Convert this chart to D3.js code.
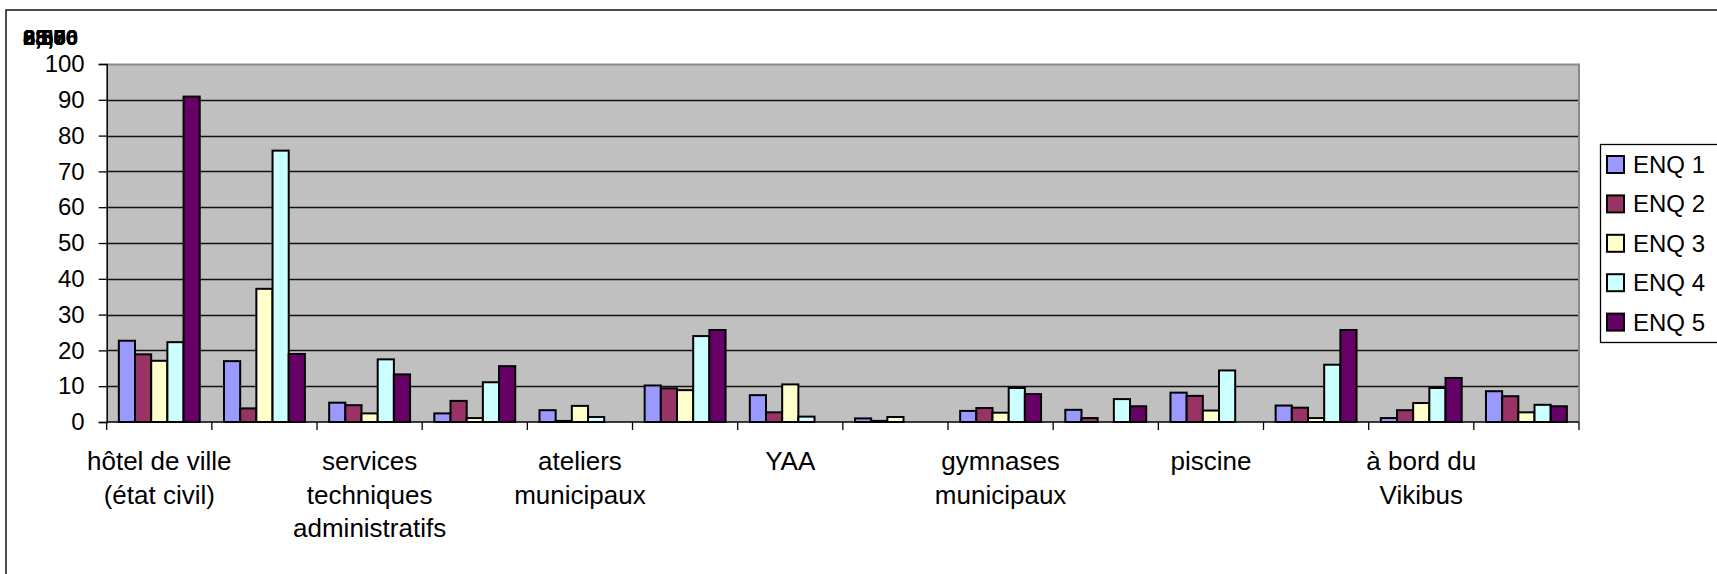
<!DOCTYPE html>
<html>
<head>
<meta charset="utf-8">
<script src="https://cdn.jsdelivr.net/npm/d3@7"></script>
<style>
  html, body { margin: 0; padding: 0; background: #fff; }
  svg { display: block; font-family: "Liberation Sans", Arial, sans-serif; }
</style>
</head>
<body>
<svg id="chart" width="1717" height="574"></svg>
<script>
// Lieux d'enquête (seule une étiquette sur deux est affichée sur l'axe)
const categories = [
  "hôtel de ville\n(état civil)", "",
  "services\ntechniques\nadministratifs", "",
  "ateliers\nmunicipaux", "",
  "YAA", "",
  "gymnases\nmunicipaux", "",
  "piscine", "",
  "à bord du\nVikibus", ""
];

const seriesNames = ["ENQ 1", "ENQ 2", "ENQ 3", "ENQ 4", "ENQ 5"];

const enq1 = [22.7, 17.0, 5.4, 2.4, 3.3, 10.2, 7.5, 1.0, 3.1, 3.4, 8.2, 4.6, 1.1, 8.6];
const enq2 = [18.9, 3.8, 4.7, 5.9, 0.3, 9.4, 2.7, 0.3, 3.9, 1.1, 7.3, 4.0, 3.3, 7.2];
const enq3 = [17.1, 37.2, 2.4, 1.1, 4.5, 8.9, 10.5, 1.4, 2.6, 0, 3.2, 1.1, 5.3, 2.7];
const enq4 = [22.3, 75.8, 17.5, 11.1, 1.4, 24.0, 1.5, 0, 9.5, 6.4, 14.4, 16.0, 9.5, 4.8];
const enq5 = [90.9, 19.0, 13.3, 15.6, 0, 25.7, 0, 0, 7.8, 4.4, 0, 25.7, 12.3, 4.4];

const yTicks = [0, 10, 20, 30, 40, 50, 60, 70, 80, 90, 100];

// Étiquettes superposées en haut à gauche
const cornerLabels = ["0,00", "88,76", "25,00", "8,33", "6,50", "83,50"];

const seriesColors = ["#9999FF", "#993366", "#FFFFCC", "#CCFFFF", "#660066"];
const seriesValues = [enq1, enq2, enq3, enq4, enq5];

const svg = d3.select("#chart");

// cadre extérieur du graphique
svg.append("rect")
  .attr("x", 6).attr("y", 10)
  .attr("width", 1800).attr("height", 700)
  .attr("fill", "#fff")
  .attr("stroke", "#222").attr("stroke-width", 1.6);

const plot = { left: 106.7, right: 1579, top: 64, bottom: 422 };

const x = d3.scaleBand()
  .domain(d3.range(categories.length))
  .range([plot.left, plot.right])
  .paddingInner(0).paddingOuter(0);

const barW = x.bandwidth() / 6.5;
const xs = d3.scaleBand()
  .domain(d3.range(seriesNames.length))
  .range([barW * 0.75, barW * 5.75]);

const y = d3.scaleLinear().domain([0, 100]).range([plot.bottom, plot.top]);

// fond de la zone de traçage
svg.append("rect")
  .attr("x", plot.left).attr("y", plot.top)
  .attr("width", plot.right - plot.left).attr("height", plot.bottom - plot.top)
  .attr("fill", "#C0C0C0");

// quadrillage horizontal
svg.append("g")
  .selectAll("line")
  .data(yTicks.filter(d => d > 0 && d < 100))
  .join("line")
  .attr("x1", plot.left).attr("x2", plot.right)
  .attr("y1", d => Math.round(y(d)) + 0.5).attr("y2", d => Math.round(y(d)) + 0.5)
  .attr("stroke", "#111").attr("stroke-width", 1.3);

// bordure de la zone de traçage (haut et droite)
svg.append("path")
  .attr("d", `M${plot.left},${plot.top + 0.5}H${plot.right}V${plot.bottom}`)
  .attr("fill", "none").attr("stroke", "#8a8a8a").attr("stroke-width", 2);

// barres
const groups = svg.append("g")
  .selectAll("g")
  .data(seriesNames.map((name, i) => ({ name, i, values: seriesValues[i] })))
  .join("g")
  .attr("fill", d => seriesColors[d.i]);

groups.selectAll("rect")
  .data(d => d.values.map((v, c) => ({ v, c, s: d.i })))
  .join("rect")
  .attr("x", d => x(d.c) + xs(d.s))
  .attr("width", xs.bandwidth())
  .attr("y", d => y(d.v))
  .attr("height", d => y(0) - y(d.v))
  .attr("stroke", "#000")
  .attr("stroke-width", 2)
  .attr("stroke-linejoin", "miter");

// axe des ordonnées
const yAxis = d3.axisLeft(y).tickValues(yTicks).tickSize(8).tickPadding(14).tickFormat(d3.format("d"));
const yg = svg.append("g")
  .attr("transform", `translate(${plot.left},0)`)
  .call(yAxis);
yg.select(".domain").attr("stroke", "#000").attr("stroke-width", 1.5);
yg.selectAll(".tick line").attr("stroke", "#000").attr("stroke-width", 1.3);
yg.selectAll(".tick text")
  .attr("font-size", 24)
  .attr("font-family", "Liberation Sans, Arial, sans-serif")
  .attr("fill", "#000");

// axe des abscisses
const xEdges = d3.range(categories.length + 1).map(i => plot.left + i * x.bandwidth());
const xg = svg.append("g");
xg.append("line")
  .attr("x1", plot.left).attr("x2", plot.right)
  .attr("y1", plot.bottom).attr("y2", plot.bottom)
  .attr("stroke", "#000").attr("stroke-width", 1.5);
xg.selectAll("line.tick")
  .data(xEdges)
  .join("line")
  .attr("class", "tick")
  .attr("x1", d => d).attr("x2", d => d)
  .attr("y1", plot.bottom).attr("y2", plot.bottom + 8)
  .attr("stroke", "#000").attr("stroke-width", 1.3);

const catText = xg.selectAll("text")
  .data(categories.map((c, i) => ({ c, i })).filter(d => d.c !== ""))
  .join("text")
  .attr("text-anchor", "middle")
  .attr("font-size", 26)
  .attr("fill", "#000");
catText.selectAll("tspan")
  .data(d => d.c.split("\n").map(line => ({ line, cx: x(d.i) + x.bandwidth() / 2 })))
  .join("tspan")
  .attr("x", d => d.cx)
  .attr("y", (d, k) => 470 + k * 33.5)
  .text(d => d.line);

// étiquettes superposées
svg.append("g")
  .selectAll("text")
  .data(cornerLabels)
  .join("text")
  .attr("x", 23).attr("y", 45)
  .attr("font-size", 22)
  .attr("font-weight", "bold")
  .attr("fill", "#000")
  .text(d => d);

// légende
const legend = svg.append("g");
legend.append("rect")
  .attr("x", 1600.5).attr("y", 144.5)
  .attr("width", 140).attr("height", 198)
  .attr("fill", "#fff").attr("stroke", "#000").attr("stroke-width", 1.3);
const items = legend.selectAll("g.item")
  .data(seriesNames)
  .join("g")
  .attr("class", "item")
  .attr("transform", (d, i) => `translate(1607,${156 + i * 39.4})`);
items.append("rect")
  .attr("width", 17).attr("height", 17)
  .attr("fill", (d, i) => seriesColors[i])
  .attr("stroke", "#000").attr("stroke-width", 2);
items.append("text")
  .attr("x", 26).attr("y", 17)
  .attr("font-size", 24)
  .attr("fill", "#000")
  .text(d => d);
</script>
</body>
</html>
